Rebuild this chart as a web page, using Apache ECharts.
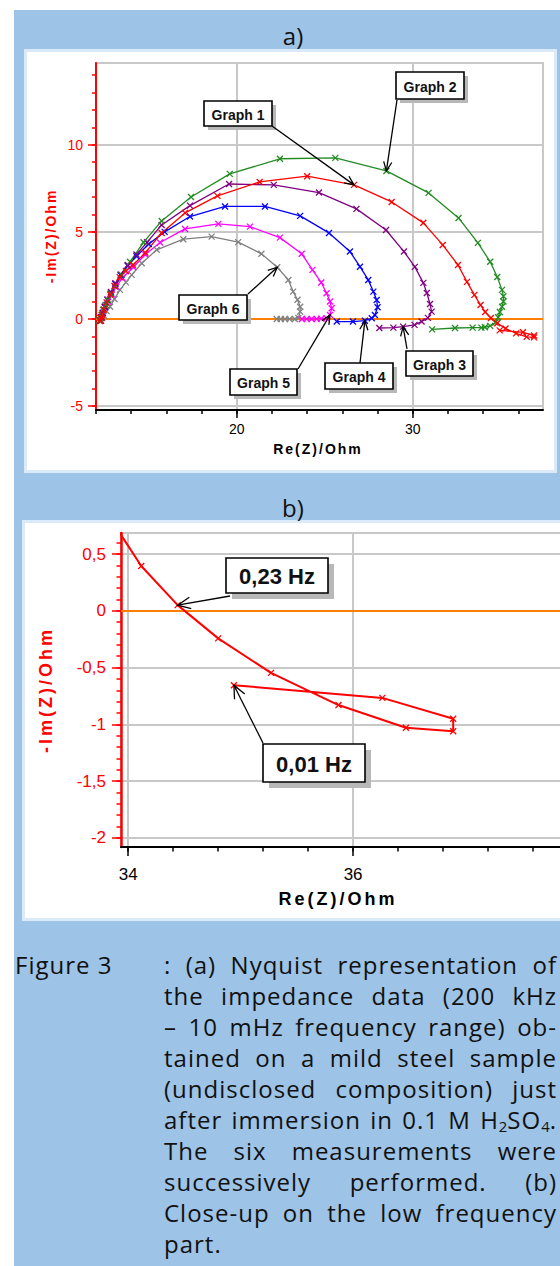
<!DOCTYPE html>
<html>
<head>
<meta charset="utf-8">
<script src="https://cdn.jsdelivr.net/npm/echarts@6/dist/echarts.min.js"></script>
<style>
  html, body { margin: 0; padding: 0; width: 560px; height: 1266px; overflow: hidden; background: #fff; }
  .panel { position: absolute; left: 14px; top: 10px; width: 600px; height: 1300px; background: #9dc3e6; }
  .box { position: absolute; background: #fff; box-sizing: border-box; border: 3px solid #dbeaf8; }
  #boxA { left: 24px; top: 49px; width: 533px; height: 424px; }
  #boxB { left: 22px; top: 520px; width: 600px; height: 401px; }
  #fig { position: absolute; left: 0; top: 0; width: 640px; height: 1266px; }
  .t { position: absolute; white-space: nowrap; transform: translate(-50%, -50%); }
  .panelTitle { font-family: "Open Sans", sans-serif; font-size: 24px; color: #111; }
  .axisName { font-family: "Liberation Sans", Arial, sans-serif; font-weight: bold; }
  .rot { transform: translate(-50%, -50%) rotate(-90deg); }
  .caption { position: absolute; font-family: "Open Sans", sans-serif; font-size: 24px; letter-spacing: 1px; color: #111; }
  #capLabel { left: 15px; top: 949px; line-height: 31px; }
  #capText { left: 164px; top: 949px; width: 393px; }
  #capText div { height: 31px; line-height: 31px; white-space: nowrap; text-align: justify; text-align-last: justify; }
  #capText div.last { text-align-last: left; }
  .sub { font-size: 0.62em; vertical-align: -0.2em; line-height: 0; letter-spacing: 0; }
</style>
</head>
<body>
<div class="panel"></div>
<div class="box" id="boxA"></div>
<div class="box" id="boxB"></div>
<div id="fig"></div>

<div class="t panelTitle" style="left:293px; top:35px;">a)</div>
<div class="t panelTitle" style="left:293px; top:507px;">b)</div>

<div class="t axisName" style="left:318px; top:449px; font-size:14px; letter-spacing:2px; color:#000;">Re(Z)/Ohm</div>
<div class="t axisName rot" style="left:51px; top:236px; font-size:14px; letter-spacing:2px; color:#ff0000;">-Im(Z)/Ohm</div>
<div class="t axisName" style="left:338px; top:899px; font-size:18px; letter-spacing:3px; color:#000;">Re(Z)/Ohm</div>
<div class="t axisName rot" style="left:46px; top:690px; font-size:18px; letter-spacing:3px; color:#ff0000;">-Im(Z)/Ohm</div>

<div class="caption" id="capLabel">Figure 3</div>
<div class="caption" id="capText">
  <div>: (a) Nyquist representation of</div>
  <div>the impedance data (200 kHz</div>
  <div>– 10 mHz frequency range) ob-</div>
  <div>tained on a mild steel sample</div>
  <div>(undisclosed composition) just</div>
  <div>after immersion in 0.1 M H<span class="sub">2</span>SO<span class="sub">4</span>.</div>
  <div>The six measurements were</div>
  <div>successively performed. (b)</div>
  <div>Close-up on the low frequency</div>
  <div class="last">part.</div>
</div>

<script>
// Nyquist data: Re(Z) and -Im(Z), in Ohm, for the six successive measurements.
const graph1Re = [12.25, 12.3, 12.35, 12.45, 12.6, 12.8, 13.05, 13.35, 13.7, 14.1, 14.8, 15.73, 17.06, 18.9, 21.3, 24.0, 26.66, 28.8, 30.6, 31.7, 32.57, 33.08, 33.5, 33.85];
const graph1Im = [-0.1, 0.05, 0.25, 0.55, 0.95, 1.4, 1.9, 2.4, 2.75, 3.1, 3.8, 4.94, 6.09, 7.07, 7.87, 8.2, 7.7, 6.72, 5.52, 4.25, 3.1, 2.13, 1.38, 0.8];
// Low-frequency end of Graph 1 (shown enlarged in panel b)
const lowFreqRe = [34.116, 34.44, 34.8, 35.27, 35.87, 36.47, 36.89, 36.89, 36.26, 34.94];
const lowFreqIm = [0.394, 0.05, -0.243, -0.547, -0.83, -1.03, -1.06, -0.95, -0.767, -0.655];

const graph2Re = [12.2, 12.25, 12.32, 12.4, 12.55, 12.68, 12.85, 13.08, 13.46, 13.93, 14.7, 15.73, 17.4, 19.6, 22.45, 25.6, 28.5, 30.9, 32.6, 33.7, 34.4, 34.8, 35.07, 35.15, 35.15, 35.07, 34.95, 34.85, 34.7, 34.4, 34.1, 33.9, 33.4, 32.4, 31.1];
const graph2Im = [-0.1, 0.05, 0.23, 0.52, 0.8, 1.09, 1.45, 1.86, 2.53, 3.28, 4.4, 5.63, 7.0, 8.33, 9.2, 9.25, 8.5, 7.24, 5.8, 4.37, 3.28, 2.41, 1.67, 1.3, 1.0, 0.7, 0.4, 0.1, -0.2, -0.4, -0.48, -0.5, -0.5, -0.52, -0.6];

const graph3Re = [12.25, 12.3, 12.38, 12.5, 12.65, 12.85, 13.1, 13.4, 13.8, 14.3, 14.9, 15.73, 17.34, 19.56, 22.1, 24.67, 26.8, 28.48, 29.5, 30.12, 30.6, 30.8, 30.98, 31.07, 30.86, 30.5, 30.1, 29.45, 28.9, 28.1];
const graph3Im = [-0.1, 0.1, 0.35, 0.7, 1.1, 1.55, 2.05, 2.55, 3.1, 3.7, 4.4, 5.4, 6.51, 7.75, 7.7, 7.26, 6.32, 5.11, 3.87, 2.99, 2.07, 1.49, 0.86, 0.42, 0.06, -0.15, -0.34, -0.44, -0.5, -0.52];

const graph4Re = [12.25, 12.3, 12.38, 12.5, 12.65, 12.85, 13.1, 13.4, 13.8, 14.3, 15.0, 15.9, 17.34, 19.33, 21.6, 23.6, 25.24, 26.43, 27.0, 27.47, 27.76, 27.95, 28.0, 27.85, 27.67, 27.28, 26.6, 25.68];
const graph4Im = [-0.1, 0.1, 0.35, 0.7, 1.1, 1.5, 2.0, 2.5, 3.05, 3.6, 4.3, 5.0, 5.88, 6.46, 6.46, 5.92, 4.94, 3.87, 3.0, 2.24, 1.57, 1.09, 0.67, 0.23, 0.04, -0.1, -0.15, -0.15];

const graph5Re = [12.25, 12.3, 12.4, 12.52, 12.7, 12.9, 13.15, 13.5, 14.12, 14.8, 15.64, 17.06, 18.95, 20.75, 22.45, 23.69, 24.3, 24.8, 25.1, 25.3, 25.39, 25.3, 25.1, 24.8, 24.54, 24.25, 23.97, 23.7];
const graph5Im = [-0.1, 0.1, 0.35, 0.65, 1.0, 1.4, 1.85, 2.35, 2.97, 3.7, 4.39, 5.17, 5.46, 5.3, 4.67, 3.74, 2.82, 2.09, 1.48, 1.0, 0.61, 0.23, 0.04, 0.02, 0.0, 0.0, 0.0, 0.0];

const graph6Re = [12.3, 12.35, 12.45, 12.6, 12.8, 13.05, 13.36, 13.7, 14.03, 14.6, 15.45, 16.96, 18.57, 20.08, 21.4, 22.3, 22.93, 23.2, 23.45, 23.6, 23.6, 23.5, 23.3, 23.0, 22.74, 22.5, 22.27];
const graph6Im = [-0.1, 0.05, 0.2, 0.45, 0.7, 1.15, 1.67, 2.1, 2.53, 3.2, 3.97, 4.58, 4.73, 4.41, 3.74, 2.97, 2.24, 1.57, 1.1, 0.7, 0.42, 0.06, 0.0, 0.0, 0.0, 0.0, 0.0];

// Axis ticks and labels
const ticksA_xMajor = [20, 30];
const ticksA_yMajor = [-5, 0, 5, 10];
const ticksB_xMajor = [34, 36];
const ticksB_yMajor = [-2, -1.5, -1, -0.5, 0, 0.5];

function steps(from, to, step) {
  const out = [];
  const n = Math.round((to - from) / step);
  for (let i = 0; i <= n; i++) out.push(+(from + i * step).toFixed(4));
  return out;
}
const ticksA_xMinor = steps(12, 36, 2);
const ticksA_yMinor = steps(-5, 14, 1);
const ticksB_xMinor = steps(34, 38.4, 0.4);
const ticksB_yMinor = steps(-2, 0.6, 0.1);

const pairs = (re, im) => re.map((v, i) => [v, im[i]]);
const comma = v => String(v).replace('.', ',');

const FONT = '"Liberation Sans", Arial, sans-serif';
const RED = '#ff0000';
const GRID_GREY = '#c8c8c8';
const cross = 'path://M0,0L10,10M10,0L0,10';

// Two stacked axes per dimension: one carries the short minor ticks and the
// axis line, the other the long major ticks, labels and split lines.
function axisPair(gridIndex, pos, min, max, minor, major, c, fs, margin, lineW, longTick, fmt) {
  const common = { type: 'value', gridIndex, position: pos, offset: 0, min, max, scale: true };
  return [
    Object.assign({}, common, {
      axisLine: { show: true, onZero: false, lineStyle: { color: c, width: lineW } },
      axisTick: { show: true, customValues: minor, length: longTick / 2, lineStyle: { color: c, width: 1.5 } },
      axisLabel: { show: false },
      splitLine: { show: false }
    }),
    Object.assign({}, common, {
      axisLine: { show: false, onZero: false },
      axisTick: { show: true, customValues: major, length: longTick, lineStyle: { color: c, width: 1.5 } },
      axisLabel: { show: true, customValues: major, color: c, fontFamily: FONT, fontSize: fs, margin, formatter: fmt },
      splitLine: { show: true, lineStyle: { color: GRID_GREY, width: 2 } }
    })
  ];
}

const xA = axisPair(0, 'bottom', 12, 37.4, ticksA_xMinor, ticksA_xMajor, '#000', 14, 12, 2, 8, v => String(v));
const yA = axisPair(0, 'left', -5.23, 14.7, ticksA_yMinor, ticksA_yMajor, RED, 14, 13, 2, 8, v => String(v));
const xB = axisPair(1, 'bottom', 33.936, 38.4, ticksB_xMinor, ticksB_xMajor, '#000', 17, 19, 2, 9, v => String(v));
const yB = axisPair(1, 'left', -2.08, 0.685, ticksB_yMinor, ticksB_yMajor, RED, 17, 15, 2.5, 9, comma);

function curve(name, re, im, color, size, width, xi, yi) {
  return {
    type: 'line', name, xAxisIndex: xi, yAxisIndex: yi,
    data: pairs(re, im),
    symbol: cross, symbolSize: size, showSymbol: true,
    lineStyle: { color, width },
    itemStyle: { color, borderColor: color, borderWidth: 1.3 },
    clip: true, z: 3, animation: false
  };
}
function zeroLine(xi, yi) {
  return {
    type: 'line', xAxisIndex: xi, yAxisIndex: yi, data: [], z: 1, animation: false,
    markLine: {
      silent: true, symbol: 'none', z: 1, animation: false,
      label: { show: false },
      lineStyle: { color: '#ff8000', width: 2, type: 'solid' },
      data: [{ yAxis: 0 }]
    }
  };
}

const g1 = pairs(graph1Re.concat(lowFreqRe), graph1Im.concat(lowFreqIm));
const closeUpRe = [graph1Re[graph1Re.length - 1]].concat(lowFreqRe);
const closeUpIm = [graph1Im[graph1Im.length - 1]].concat(lowFreqIm);

// The close-up panel runs past the right edge of the page, so the canvas is wider than the view.
const chart = echarts.init(document.getElementById('fig'), null, { renderer: 'svg', width: 640, height: 1266 });
chart.setOption({
  backgroundColor: 'transparent',
  animation: false,
  grid: [
    { left: 96, top: 63, width: 447, height: 347, show: true, borderColor: GRID_GREY, borderWidth: 2, backgroundColor: 'transparent', containLabel: false },
    { left: 121, top: 533, width: 502, height: 314, show: true, borderColor: GRID_GREY, borderWidth: 2, backgroundColor: 'transparent', containLabel: false }
  ],
  xAxis: [xA[0], xA[1], xB[0], xB[1]],
  yAxis: [yA[0], yA[1], yB[0], yB[1]],
  series: [
    zeroLine(1, 1),
    curve('Graph 6', graph6Re, graph6Im, '#808080', 6, 1.3, 1, 1),
    curve('Graph 5', graph5Re, graph5Im, '#ff00ff', 6, 1.3, 1, 1),
    curve('Graph 4', graph4Re, graph4Im, '#0000ff', 6, 1.3, 1, 1),
    curve('Graph 3', graph3Re, graph3Im, '#800080', 6, 1.3, 1, 1),
    curve('Graph 2', graph2Re, graph2Im, '#228b22', 6, 1.3, 1, 1),
    Object.assign(curve('Graph 1', [], [], '#ff0000', 6, 1.3, 1, 1), { data: g1 }),
    zeroLine(3, 3),
    curve('Graph 1 (close-up)', closeUpRe, closeUpIm, '#ff0000', 6, 2, 3, 3)
  ]
});

// Callouts: a boxed label with a drop shadow and an arrow to a measured point.
const callouts = [
  { text: 'Graph 1', re: graph1Re, im: graph1Im, idx: 16, axes: [1, 1], box: [204, 101, 68, 25], from: [272, 126], fs: 14, shadow: 4, head: 10 },
  { text: 'Graph 2', re: graph2Re, im: graph2Im, idx: 16, axes: [1, 1], box: [396, 72, 68, 27], from: [397, 100], fs: 14, shadow: 4, head: 10 },
  { text: 'Graph 6', re: graph6Re, im: graph6Im, idx: 15, axes: [1, 1], box: [179, 295, 68, 25], from: [248, 294], fs: 14, shadow: 4, head: 10 },
  { text: 'Graph 5', re: graph5Re, im: graph5Im, idx: 21, axes: [1, 1], box: [230, 369, 67, 26], from: [298, 369], fs: 14, shadow: 4, head: 10 },
  { text: 'Graph 4', re: graph4Re, im: graph4Im, idx: 25, axes: [1, 1], box: [325, 363, 68, 26], from: [360, 363], fs: 14, shadow: 4, head: 10 },
  { text: 'Graph 3', re: graph3Re, im: graph3Im, idx: 27, axes: [1, 1], box: [406, 351, 67, 25], from: [407, 349], fs: 14, shadow: 4, head: 10 },
  { text: '0,23 Hz', re: closeUpRe, im: closeUpIm, idx: 2, axes: [3, 3], box: [226, 558, 102, 35], from: [230, 596], fs: 22, shadow: 6, head: 14 },
  { text: '0,01 Hz', re: closeUpRe, im: closeUpIm, idx: 10, axes: [3, 3], box: [263, 744, 102, 38], from: [263, 743], fs: 22, shadow: 6, head: 14 }
];

const elements = [];
callouts.forEach(c => {
  const tip = chart.convertToPixel({ xAxisIndex: c.axes[0], yAxisIndex: c.axes[1] }, [c.re[c.idx], c.im[c.idx]]);
  const [bx, by, bw, bh] = c.box;
  const [fx, fy] = c.from;
  const ang = Math.atan2(tip[1] - fy, tip[0] - fx);
  const spread = 0.42;
  const h1 = [tip[0] - c.head * Math.cos(ang - spread), tip[1] - c.head * Math.sin(ang - spread)];
  const h2 = [tip[0] - c.head * Math.cos(ang + spread), tip[1] - c.head * Math.sin(ang + spread)];
  elements.push(
    { type: 'rect', z: 50, silent: true, shape: { x: bx + c.shadow, y: by + c.shadow, width: bw, height: bh }, style: { fill: '#b8b8b8' } },
    { type: 'rect', z: 51, silent: true, shape: { x: bx, y: by, width: bw, height: bh }, style: { fill: '#ffffff', stroke: '#000', lineWidth: 1.6 } },
    { type: 'text', z: 52, silent: true, x: bx + bw / 2, y: by + bh / 2 + 1,
      style: { text: c.text, font: 'bold ' + c.fs + 'px ' + FONT, fill: '#111', align: 'center', verticalAlign: 'middle', textAlign: 'center', textVerticalAlign: 'middle' } },
    { type: 'line', z: 52, silent: true, shape: { x1: fx, y1: fy, x2: tip[0], y2: tip[1] }, style: { stroke: '#000', lineWidth: 1.3 } },
    { type: 'polyline', z: 52, silent: true, shape: { points: [h1, tip, h2] }, style: { stroke: '#000', lineWidth: 1.3, fill: null } }
  );
});
chart.setOption({ graphic: { elements } });
</script>
</body>
</html>
